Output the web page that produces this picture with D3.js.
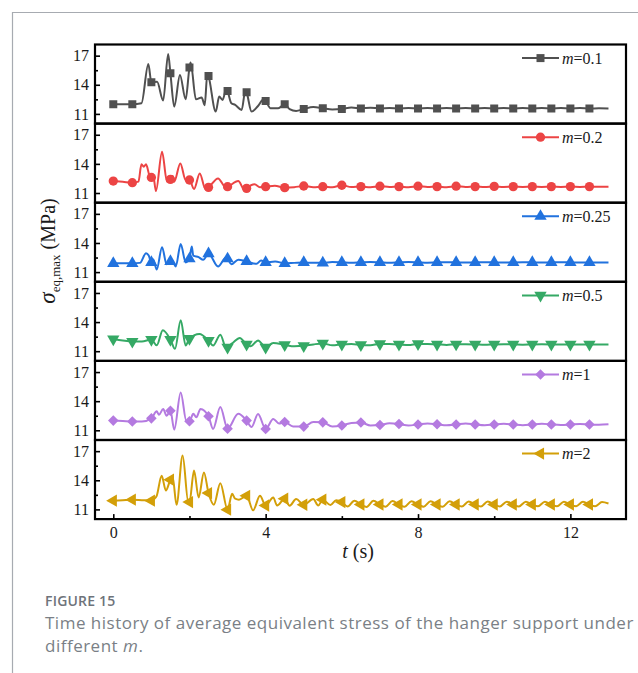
<!DOCTYPE html>
<html>
<head>
<meta charset="utf-8">
<script src="https://cdn.jsdelivr.net/npm/d3@7"></script>
<style>
  body { margin: 0; background: #fff; }
  svg { display: block; }
</style>
</head>
<body>
<svg id="chart" width="638" height="673"></svg>
<script>
// ---- data -------------------------------------------------------------
// time (s) of every plotted symbol
const markerTimes = [0, 0.5, 1, 1.5, 2, 2.5, 3, 3.5, 4, 4.5, 5, 5.5, 6, 6.5, 7, 7.5, 8, 8.5, 9, 9.5, 10, 10.5, 11, 11.5, 12, 12.5];

// sigma_eq,max (MPa) at the symbol times
const m01Markers = [12.0, 12.0, 14.25, 15.18, 15.77, 14.9, 13.37, 13.23, 12.34, 12.0, 11.5, 11.58, 11.5, 11.56, 11.56, 11.56, 11.56, 11.56, 11.56, 11.56, 11.56, 11.56, 11.56, 11.56, 11.56, 11.56];
const m02Markers = [12.23, 12.06, 12.6, 12.4, 12.34, 11.58, 11.65, 11.48, 11.65, 11.55, 11.72, 11.65, 11.8, 11.66, 11.7, 11.66, 11.7, 11.66, 11.7, 11.66, 11.68, 11.66, 11.66, 11.66, 11.66, 11.66];
const m025Markers = [11.9, 11.9, 12.0, 12.1, 12.37, 12.9, 12.37, 12.1, 12.0, 11.9, 12.0, 11.95, 12.0, 12.0, 12.0, 12.0, 12.0, 12.0, 12.0, 12.0, 12.0, 12.0, 12.0, 12.0, 12.0, 12.0];
const m05Markers = [12.25, 12.0, 12.2, 12.2, 12.3, 12.1, 11.4, 11.7, 11.4, 11.66, 11.55, 11.8, 11.7, 11.65, 11.75, 11.7, 11.75, 11.7, 11.72, 11.7, 11.7, 11.7, 11.7, 11.7, 11.7, 11.7];
const m1Markers = [12.0, 11.9, 12.23, 13.02, 11.93, 12.44, 11.17, 12.0, 11.14, 11.86, 11.38, 11.82, 11.5, 11.8, 11.55, 11.65, 11.6, 11.62, 11.6, 11.6, 11.6, 11.6, 11.6, 11.6, 11.6, 11.6];
const m2Markers = [11.9, 12.0, 11.9, 14.05, 11.75, 12.68, 10.97, 12.4, 11.4, 12.1, 11.48, 12.0, 11.75, 11.5, 11.5, 11.5, 11.5, 11.5, 11.5, 11.5, 11.5, 11.5, 11.5, 11.5, 11.5, 11.5];

// peaks and troughs of the response between the symbols [t (s), MPa]
const m01Wave = [[0.25, 12.0], [0.74, 12.1], [0.92, 16.14], [1.15, 14.3], [1.31, 12.37], [1.44, 17.17], [1.6, 11.75], [1.75, 15.0], [1.9, 12.5], [2.03, 16.3], [2.17, 12.5], [2.32, 12.7], [2.4, 11.9], [2.47, 15.2], [2.69, 11.24], [2.78, 12.78], [2.87, 12.44], [2.97, 13.64], [3.1, 12.1], [3.2, 11.93], [3.37, 11.41], [3.47, 13.47], [3.63, 11.24], [3.8, 11.82], [3.95, 12.5], [4.13, 11.58], [4.33, 11.58], [4.63, 11.5], [4.8, 11.3], [5.25, 11.7], [5.75, 11.45], [6.25, 11.66], [6.75, 11.64], [7.25, 11.62], [7.75, 11.62], [8.25, 11.6], [8.75, 11.6], [9.25, 11.6], [9.75, 11.6], [10.25, 11.6], [10.75, 11.6], [11.25, 11.6], [11.75, 11.6], [12.25, 11.6], [12.75, 11.57], [13.0, 11.56]];
const m02Wave = [[0.25, 12.15], [0.66, 12.17], [0.74, 13.95], [0.8, 13.7], [0.86, 13.95], [0.95, 12.8], [1.05, 12.75], [1.12, 11.2], [1.28, 15.25], [1.41, 12.17], [1.45, 12.5], [1.56, 12.75], [1.6, 12.17], [1.76, 14.05], [1.9, 12.34], [2.12, 11.41], [2.27, 13.02], [2.42, 11.41], [2.75, 12.5], [2.95, 11.6], [3.28, 12.23], [3.45, 11.3], [3.71, 11.9], [3.85, 11.6], [4.24, 11.75], [4.75, 11.6], [5.25, 11.6], [5.75, 11.6], [6.25, 11.62], [6.75, 11.6], [7.25, 11.62], [7.75, 11.6], [8.25, 11.62], [8.75, 11.6], [9.25, 11.62], [9.75, 11.62], [10.25, 11.63], [10.75, 11.63], [11.25, 11.63], [11.75, 11.63], [12.25, 11.63], [12.75, 11.64], [13.0, 11.65]];
const m025Wave = [[0.25, 11.9], [0.7, 11.95], [0.86, 12.95], [0.93, 12.7], [1.05, 12.3], [1.14, 11.27], [1.28, 13.57], [1.4, 11.8], [1.57, 12.0], [1.64, 11.58], [1.77, 13.9], [1.9, 12.0], [2.06, 13.64], [2.1, 12.7], [2.24, 12.54], [2.36, 12.27], [2.75, 11.58], [2.96, 12.5], [3.1, 11.8], [3.28, 12.27], [3.76, 11.86], [3.88, 12.2], [4.25, 12.1], [4.75, 11.95], [5.25, 11.95], [5.75, 12.05], [6.25, 11.95], [6.75, 12.04], [7.25, 11.96], [7.75, 12.03], [8.25, 11.97], [8.75, 12.02], [9.25, 11.98], [9.75, 12.02], [10.25, 11.98], [10.75, 12.01], [11.25, 11.99], [11.75, 12.01], [12.25, 11.99], [12.75, 12.0], [13.0, 12.0]];
const m05Wave = [[0.25, 12.1], [0.75, 12.0], [1.14, 11.6], [1.3, 13.17], [1.62, 11.24], [1.77, 14.19], [1.9, 11.58], [2.26, 12.76], [2.62, 11.58], [2.81, 12.7], [2.97, 11.24], [3.15, 11.9], [3.32, 12.36], [3.6, 11.5], [3.8, 12.1], [4.2, 11.85], [4.75, 11.5], [5.25, 11.7], [5.75, 11.6], [6.25, 11.75], [6.75, 11.62], [7.25, 11.74], [7.75, 11.64], [8.25, 11.73], [8.75, 11.65], [9.25, 11.72], [9.75, 11.66], [10.25, 11.72], [10.75, 11.67], [11.25, 11.71], [11.75, 11.68], [12.25, 11.7], [12.75, 11.69], [13.0, 11.7]];
const m1Wave = [[0.25, 11.95], [0.75, 11.9], [1.14, 12.95], [1.2, 12.6], [1.31, 13.2], [1.4, 12.5], [1.6, 11.07], [1.77, 14.9], [1.92, 11.93], [2.1, 12.7], [2.18, 12.34], [2.29, 13.2], [2.62, 11.14], [2.81, 13.4], [3.28, 12.7], [3.63, 11.34], [3.8, 12.68], [4.2, 12.17], [4.35, 11.7], [4.72, 11.4], [5.25, 11.85], [5.75, 11.4], [6.25, 11.75], [6.75, 11.5], [7.25, 11.72], [7.75, 11.5], [8.25, 11.7], [8.75, 11.52], [9.25, 11.7], [9.75, 11.52], [10.25, 11.68], [10.75, 11.52], [11.25, 11.68], [11.75, 11.55], [12.25, 11.66], [12.75, 11.58], [13.0, 11.62]];
const m2Wave = [[0.25, 11.95], [0.75, 11.95], [1.05, 12.0], [1.14, 12.4], [1.27, 14.46], [1.38, 12.95], [1.56, 14.3], [1.66, 11.48], [1.82, 16.55], [1.97, 11.72], [2.12, 15.0], [2.24, 12.23], [2.38, 14.8], [2.64, 11.48], [2.81, 13.7], [3.12, 12.6], [3.2, 12.1], [3.3, 12.0], [3.67, 10.9], [3.85, 12.4], [4.2, 12.23], [4.3, 11.4], [4.63, 11.38], [4.8, 12.06], [5.25, 12.06], [5.38, 11.4], [5.7, 11.45], [5.85, 11.95], [6.15, 11.3], [6.33, 11.9], [6.65, 11.25], [6.83, 11.88], [7.15, 11.28], [7.33, 11.86], [7.65, 11.27], [7.83, 11.85], [8.15, 11.28], [8.33, 11.84], [8.65, 11.28], [8.83, 11.84], [9.15, 11.3], [9.33, 11.82], [9.65, 11.3], [9.83, 11.82], [10.15, 11.3], [10.33, 11.8], [10.65, 11.3], [10.83, 11.8], [11.15, 11.32], [11.33, 11.8], [11.65, 11.32], [11.83, 11.78], [12.15, 11.33], [12.33, 11.78], [12.65, 11.33], [12.83, 11.75], [13.0, 11.6]];

const legendValues = ["0.1", "0.2", "0.25", "0.5", "1", "2"];
const yTicksMajor = [11, 14, 17];
const yTicksMinor = [12.5, 15.5];
const xTicksMajor = [0, 4, 8, 12];
const xTicksMinor = [2, 6, 10];

// ---- styles -----------------------------------------------------------
const seriesStyle = [
  { color: "#505050", symbol: d3.symbolSquare, size: 64, rotate: 0 },
  { color: "#ec4444", symbol: d3.symbolCircle, size: 68, rotate: 0 },
  { color: "#2172de", symbol: d3.symbolTriangle, size: 66, rotate: 0 },
  { color: "#35a965", symbol: d3.symbolTriangle, size: 66, rotate: 180 },
  { color: "#b47ae0", symbol: d3.symbolSquare, size: 56, rotate: 45 },
  { color: "#d39f08", symbol: d3.symbolTriangle, size: 66, rotate: -90 }
];
const seriesMarkers = [m01Markers, m02Markers, m025Markers, m05Markers, m1Markers, m2Markers];
const seriesWaves = [m01Wave, m02Wave, m025Wave, m05Wave, m1Wave, m2Wave];

// ---- layout -----------------------------------------------------------
const W = 638, H = 673;
const plotLeft = 95, plotRight = 626, plotTop = 44.5, panelH = 79.1;
const serif = "'Liberation Serif', 'Times New Roman', serif";
const sans = "'Open Sans', 'Noto Sans', sans-serif";

const svg = d3.select("#chart");
svg.append("rect").attr("width", W).attr("height", H).attr("fill", "#fff");

// page frame
svg.append("path")
  .attr("d", `M12.5,${H}V12.5H${W}`)
  .attr("fill", "none")
  .attr("stroke", "#a7abb1")
  .attr("stroke-width", 1.2);

const x = d3.scaleLinear().domain([-0.48, 13.46]).range([plotLeft, plotRight]);

const defs = svg.append("defs");

seriesStyle.forEach((st, i) => {
  const top = plotTop + i * panelH;
  const y = d3.scaleLinear().domain([10.0, 18.15]).range([top + panelH, top]);
  const g = svg.append("g");

  defs.append("clipPath").attr("id", "clip" + i)
    .append("rect")
    .attr("x", plotLeft).attr("y", top)
    .attr("width", plotRight - plotLeft).attr("height", panelH);

  const markerPts = markerTimes.map((t, k) => [t, seriesMarkers[i][k]]);
  const linePts = markerPts.concat(seriesWaves[i]).sort((a, b) => a[0] - b[0]);

  const line = d3.line()
    .x(d => x(d[0]))
    .y(d => y(d[1]))
    .curve(d3.curveMonotoneX);

  const inner = g.append("g").attr("clip-path", `url(#clip${i})`);
  inner.append("path")
    .datum(linePts)
    .attr("d", line)
    .attr("fill", "none")
    .attr("stroke", st.color)
    .attr("stroke-width", 2)
    .attr("stroke-linejoin", "round");

  const sym = d3.symbol().type(st.symbol).size(st.size);
  inner.selectAll("path.mk")
    .data(markerPts)
    .join("path")
    .attr("class", "mk")
    .attr("d", sym)
    .attr("fill", st.color)
    .attr("transform", d => `translate(${x(d[0])},${y(d[1])}) rotate(${st.rotate})`);

  // y axis: inward ticks
  const yAxis = g.append("g").attr("transform", `translate(${plotLeft},0)`)
    .call(d3.axisLeft(y).tickValues(yTicksMajor).tickSize(-5).tickPadding(6).tickFormat(d3.format("d")));
  const yMinor = g.append("g").attr("transform", `translate(${plotLeft},0)`)
    .call(d3.axisLeft(y).tickValues(yTicksMinor).tickSize(-3).tickFormat(""));
  [yAxis, yMinor].forEach(a => {
    a.select(".domain").remove();
    a.selectAll("line").attr("stroke", "#000").attr("stroke-width", 1.6);
  });
  yAxis.selectAll("text")
    .attr("font-family", serif).attr("font-size", 16).attr("fill", "#1a1a1a");

  // panel border
  g.append("rect")
    .attr("x", plotLeft).attr("y", top)
    .attr("width", plotRight - plotLeft).attr("height", panelH)
    .attr("fill", "none").attr("stroke", "#000").attr("stroke-width", 2.2);

  // legend
  const ly = top + 13.6;
  const lg = g.append("g");
  lg.append("line")
    .attr("x1", 522).attr("x2", 559).attr("y1", ly).attr("y2", ly)
    .attr("stroke", st.color).attr("stroke-width", 2);
  lg.append("path")
    .attr("d", sym)
    .attr("fill", st.color)
    .attr("transform", `translate(540.5,${ly}) rotate(${st.rotate})`);
  const lt = lg.append("text")
    .attr("x", 562).attr("y", ly + 5.5)
    .attr("font-family", serif).attr("font-size", 16).attr("fill", "#1a1a1a");
  lt.append("tspan").attr("font-style", "italic").text("m");
  lt.append("tspan").text("=" + legendValues[i]);

  // time axis on the bottom panel
  if (i === seriesStyle.length - 1) {
    const bottom = top + panelH;
    const xAxis = g.append("g").attr("transform", `translate(0,${bottom})`)
      .call(d3.axisBottom(x).tickValues(xTicksMajor).tickSize(-5).tickPadding(8).tickFormat(d3.format("d")));
    const xMinor = g.append("g").attr("transform", `translate(0,${bottom})`)
      .call(d3.axisBottom(x).tickValues(xTicksMinor).tickSize(-3).tickFormat(""));
    [xAxis, xMinor].forEach(a => {
      a.select(".domain").remove();
      a.selectAll("line").attr("stroke", "#000").attr("stroke-width", 1.6);
    });
    xAxis.selectAll("text")
      .attr("font-family", serif).attr("font-size", 16).attr("fill", "#1a1a1a");
  }
});

// axis titles
const xt = svg.append("text")
  .attr("x", 358).attr("y", 558)
  .attr("text-anchor", "middle")
  .attr("font-family", serif).attr("font-size", 20).attr("fill", "#1a1a1a");
xt.append("tspan").attr("font-style", "italic").text("t");
xt.append("tspan").text(" (s)");

const yt = svg.append("text")
  .attr("transform", "translate(55,251) rotate(-90)")
  .attr("text-anchor", "middle")
  .attr("font-family", serif).attr("font-size", 20).attr("fill", "#1a1a1a");
yt.append("tspan").attr("font-style", "italic").attr("font-size", 23).text("σ");
yt.append("tspan").attr("font-size", 13).attr("dy", 5).text("eq,max");
yt.append("tspan").attr("dy", -5).text(" (MPa)");

// caption
svg.append("text")
  .attr("x", 45).attr("y", 606)
  .attr("font-family", sans)
  .attr("font-size", 14).attr("font-weight", 600)
  .attr("letter-spacing", 0.2)
  .attr("fill", "#6e737a")
  .text("FIGURE 15");

svg.append("text")
  .attr("x", 45).attr("y", 629)
  .attr("font-family", sans)
  .attr("font-size", 17).attr("letter-spacing", 0.5)
  .attr("fill", "#7a7f86")
  .text("Time history of average equivalent stress of the hanger support under");

const cap2 = svg.append("text")
  .attr("x", 45).attr("y", 652)
  .attr("font-family", sans)
  .attr("font-size", 17).attr("letter-spacing", 0.5)
  .attr("fill", "#7a7f86");
cap2.append("tspan").text("different ");
cap2.append("tspan").attr("font-style", "italic").text("m");
cap2.append("tspan").text(".");
</script>
</body>
</html>
